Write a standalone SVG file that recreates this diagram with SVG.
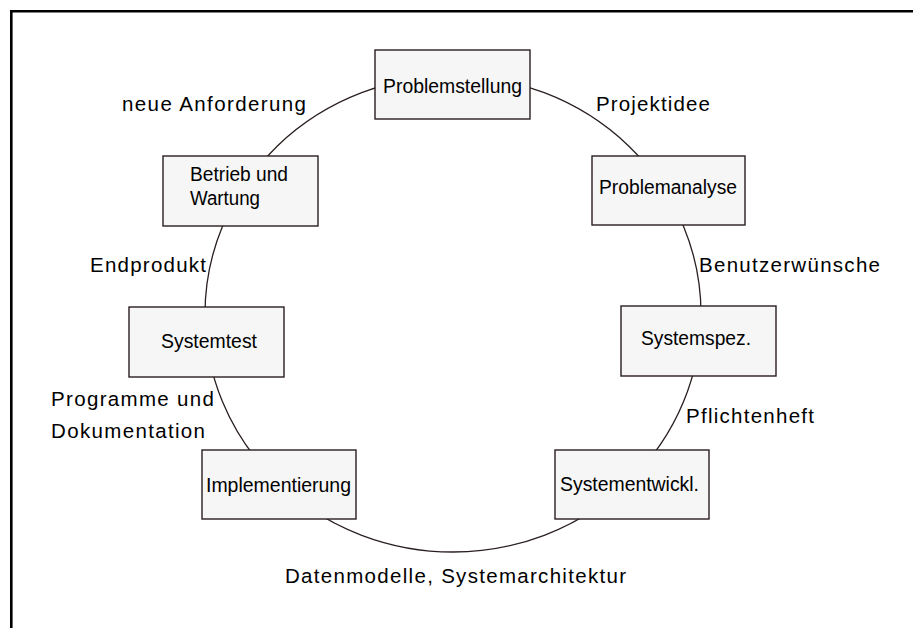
<svg xmlns="http://www.w3.org/2000/svg" width="913" height="628" viewBox="0 0 913 628">
  <style>
    .frame { fill: none; stroke: #000; stroke-width: 2.6; }
    .cycle { fill: none; stroke: #2a1f1f; stroke-width: 1.3; }
    .box { fill: #f6f6f6; stroke: #2a1f1f; stroke-width: 1.4; }
    .bt { font-family: "Liberation Sans", Arial, sans-serif; font-size: 20px; fill: #000; }
    .lbl { font-family: "Liberation Sans", Arial, sans-serif; font-size: 20.5px; fill: #000; }
  </style>
  <rect width="913" height="628" fill="#fff"/>
  <!-- page frame: only top and left edges are inside the view -->
  <path class="frame" d="M11.3,628 V11.3 H913"/>

  <!-- cycle connecting the phases -->
  <g id="connectors">
    <ellipse class="cycle" cx="453" cy="314" rx="248" ry="238"/>
  </g>

  <g id="problemstellung">
    <rect class="box" x="375" y="50" width="155" height="69"/>
    <text class="bt" x="383" y="93" textLength="139" lengthAdjust="spacingAndGlyphs">Problemstellung</text>
  </g>
  <g id="problemanalyse">
    <rect class="box" x="592" y="156" width="153" height="69"/>
    <text class="bt" x="599" y="194" textLength="138" lengthAdjust="spacingAndGlyphs">Problemanalyse</text>
  </g>
  <g id="systemspez">
    <rect class="box" x="621" y="306" width="155" height="70"/>
    <text class="bt" x="641" y="345" textLength="110" lengthAdjust="spacingAndGlyphs">Systemspez.</text>
  </g>
  <g id="systementwickl">
    <rect class="box" x="555" y="450" width="154" height="69"/>
    <text class="bt" x="560" y="491" textLength="139" lengthAdjust="spacingAndGlyphs">Systementwickl.</text>
  </g>
  <g id="implementierung">
    <rect class="box" x="202" y="450" width="154" height="69"/>
    <text class="bt" x="206" y="492" textLength="145" lengthAdjust="spacingAndGlyphs">Implementierung</text>
  </g>
  <g id="systemtest">
    <rect class="box" x="129" y="307" width="155" height="70"/>
    <text class="bt" x="161" y="348" textLength="96" lengthAdjust="spacingAndGlyphs">Systemtest</text>
  </g>
  <g id="betrieb">
    <rect class="box" x="163" y="156" width="155" height="70"/>
    <text class="bt" x="190" y="181" textLength="98" lengthAdjust="spacingAndGlyphs">Betrieb und</text>
    <text class="bt" x="190" y="205" textLength="70" lengthAdjust="spacingAndGlyphs">Wartung</text>
  </g>

  <!-- transition labels -->
  <g id="labels">
    <text class="lbl" x="122" y="111" textLength="184" lengthAdjust="spacing">neue Anforderung</text>
    <text class="lbl" x="596" y="111" textLength="114" lengthAdjust="spacing">Projektidee</text>
    <text class="lbl" x="90" y="272" textLength="116" lengthAdjust="spacing">Endprodukt</text>
    <text class="lbl" x="699" y="272" textLength="181" lengthAdjust="spacing">Benutzerwünsche</text>
    <text class="lbl" x="51" y="406" textLength="163" lengthAdjust="spacing">Programme und</text>
    <text class="lbl" x="51" y="438" textLength="154" lengthAdjust="spacing">Dokumentation</text>
    <text class="lbl" x="686" y="423" textLength="128" lengthAdjust="spacing">Pflichtenheft</text>
    <text class="lbl" x="285" y="583" textLength="341" lengthAdjust="spacing">Datenmodelle, Systemarchitektur</text>
  </g>
</svg>
